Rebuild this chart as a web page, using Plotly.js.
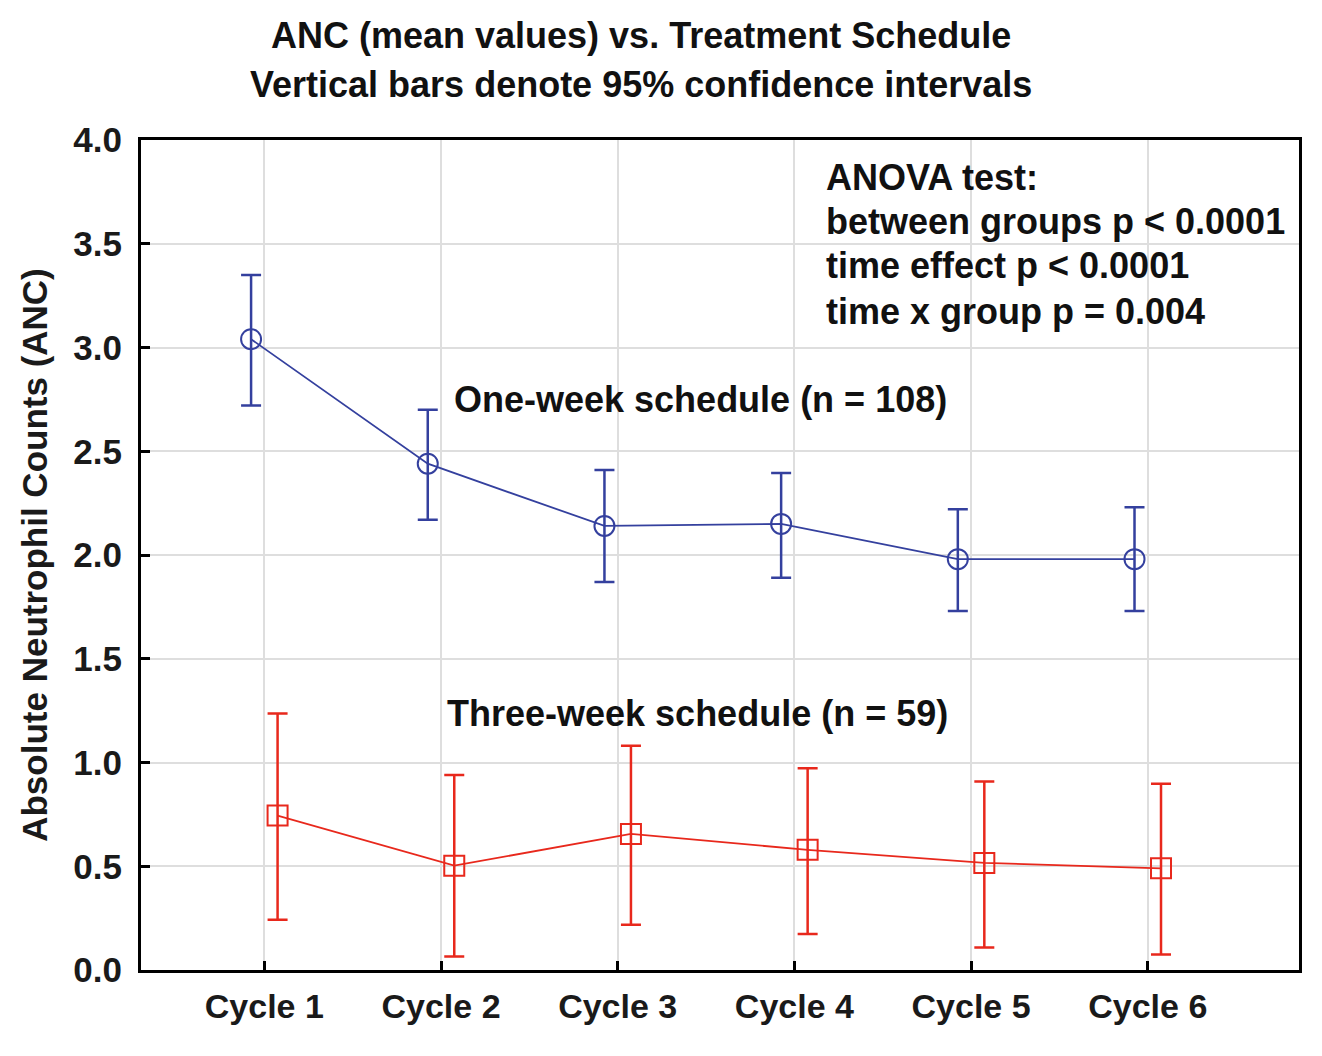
<!DOCTYPE html>
<html>
<head>
<meta charset="utf-8">
<script src="https://cdn.plot.ly/plotly-3.0.1.min.js"></script>
<style>html,body{margin:0;padding:0;background:#fff;}#chart{width:1322px;height:1056px;}</style>
</head>
<body>
<div id="chart"></div>
<script>
const cycles = ['Cycle 1','Cycle 2','Cycle 3','Cycle 4','Cycle 5','Cycle 6'];
const oneWeekMean  = [3.04, 2.44, 2.14, 2.15, 1.98, 1.98];
const oneWeekUpper = [3.35, 2.70, 2.41, 2.395, 2.22, 2.23];
const oneWeekLower = [2.72, 2.17, 1.87, 1.89, 1.73, 1.73];
const threeWeekMean  = [0.744, 0.503, 0.656, 0.579, 0.516, 0.490];
const threeWeekUpper = [1.236, 0.940, 1.081, 0.972, 0.909, 0.897];
const threeWeekLower = [0.242, 0.065, 0.218, 0.174, 0.108, 0.075];
const yTicks = [0, 0.5, 1.0, 1.5, 2.0, 2.5, 3.0, 3.5, 4.0];
const anovaLines = ['ANOVA test:', 'between groups p < 0.0001', 'time effect p < 0.0001', 'time x group p = 0.004'];

const blue = '#34409E';
const red = '#E8281C';
const FONT = 'Liberation Sans, Arial, sans-serif';

function errs(mean, up, lo) {
  return {
    type: 'data', symmetric: false,
    array: up.map((u, i) => u - mean[i]),
    arrayminus: lo.map((l, i) => mean[i] - l)
  };
}

const traces = [
  {
    type: 'scatter', mode: 'lines+markers', name: 'One-week',
    x: cycles, y: oneWeekMean,
    line: {color: blue, width: 1.8},
    marker: {symbol: 'circle-open', size: 20, color: blue, line: {color: blue, width: 2}},
    error_y: Object.assign(errs(oneWeekMean, oneWeekUpper, oneWeekLower), {color: blue, thickness: 2.5, width: 10})
  },
  {
    type: 'scatter', mode: 'lines+markers', name: 'Three-week',
    x: cycles, y: threeWeekMean,
    line: {color: red, width: 1.8},
    marker: {symbol: 'square-open', size: 20, color: red, line: {color: red, width: 2}},
    error_y: Object.assign(errs(threeWeekMean, threeWeekUpper, threeWeekLower), {color: red, thickness: 2.5, width: 10})
  }
];

const textFont = {family: FONT, size: 36, color: '#111', weight: 'bold'};

const annotations = [
  {xref: 'paper', yref: 'paper', x: 0.432, y: 1.1265, xanchor: 'center', yanchor: 'middle', showarrow: false,
   text: 'ANC (mean values) vs. Treatment Schedule', font: textFont},
  {xref: 'paper', yref: 'paper', x: 0.432, y: 1.0663, xanchor: 'center', yanchor: 'middle', showarrow: false,
   text: 'Vertical bars denote 95% confidence intervals', font: textFont},
  {xref: 'x', yref: 'y', x: 1.06, y: 2.748, xanchor: 'left', yanchor: 'middle', showarrow: false,
   text: 'One-week schedule (n = 108)', font: textFont},
  {xref: 'x', yref: 'y', x: 1.025, y: 1.2355, xanchor: 'left', yanchor: 'middle', showarrow: false,
   text: 'Three-week schedule (n = 59)', font: textFont}
];
const anovaY = [3.817, 3.605, 3.393, 3.172];
anovaLines.forEach((t, i) => annotations.push({
  xref: 'x', yref: 'y', x: 3.165, y: anovaY[i], xanchor: 'left', yanchor: 'middle', showarrow: false,
  text: t, font: textFont
}));

const layout = {
  width: 1322, height: 1056,
  margin: {l: 141, r: 23, t: 140, b: 85.5},
  paper_bgcolor: '#fff', plot_bgcolor: '#fff',
  showlegend: false,
  scattermode: 'group',
  scattergap: 0.7,
  font: {family: FONT, color: '#1a1a1a'},
  xaxis: {
    type: 'category',
    range: [-0.698, 5.856],
    showline: true, mirror: true, linecolor: '#000', linewidth: 3,
    showgrid: true, gridcolor: '#dedede', gridwidth: 2,
    ticks: 'inside', ticklen: 9, tickwidth: 3, tickcolor: '#000',
    ticklabelstandoff: 4,
    tickfont: {family: FONT, size: 34, color: '#1a1a1a', weight: 'bold'},
    zeroline: false
  },
  yaxis: {
    range: [0, 4.0],
    tickvals: yTicks,
    ticktext: yTicks.map(v => v.toFixed(1)),
    showline: true, mirror: true, linecolor: '#000', linewidth: 3,
    showgrid: true, gridcolor: '#dedede', gridwidth: 2,
    ticks: 'inside', ticklen: 9, tickwidth: 3, tickcolor: '#000',
    ticklabelstandoff: 9,
    tickfont: {family: FONT, size: 35, color: '#1a1a1a', weight: 'bold'},
    zeroline: false,
    title: {text: 'Absolute Neutrophil Counts (ANC)', standoff: 16,
            font: {family: FONT, size: 35, color: '#1a1a1a', weight: 'bold'}}
  },
  annotations: annotations
};

Plotly.newPlot('chart', traces, layout, {displayModeBar: false, staticPlot: true});
</script>
</body>
</html>
